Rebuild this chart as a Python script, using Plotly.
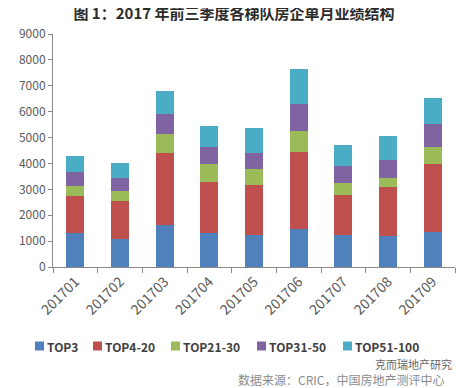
import plotly.graph_objects as go

months = ["201701", "201702", "201703", "201704", "201705", "201706", "201707", "201708", "201709"]
top3 = [1320, 1090, 1630, 1320, 1250, 1480, 1250, 1210, 1360]
top4_20 = [1430, 1470, 2780, 1970, 1930, 2970, 1540, 1890, 2630]
top21_30 = [390, 390, 730, 700, 620, 810, 460, 350, 660]
top31_50 = [540, 500, 770, 660, 620, 1040, 660, 690, 890]
top51_100 = [620, 580, 890, 810, 960, 1350, 810, 930, 1000]

series_names = ["TOP3", "TOP4-20", "TOP21-30", "TOP31-50", "TOP51-100"]
series_values = [top3, top4_20, top21_30, top31_50, top51_100]
series_colors = ["#4F81BD", "#C0504D", "#9BBB59", "#8064A2", "#4BACC6"]

font = "Noto Sans CJK SC"
OFF = 8  # default page body margin
W, H = 468 - OFF, 388 - OFF
ML, MT = 53 - OFF, 34 - OFF
MR = W - (455 - OFF)
MB = H - (267 - OFF)
PW, PH = W - ML - MR, H - MT - MB


def px_x(px):
    return (px - OFF - ML) / PW


def px_y(py):
    return (H - MB - (py - OFF)) / PH


fig = go.Figure()
for name, vals, color in zip(series_names, series_values, series_colors):
    fig.add_trace(go.Bar(x=months, y=vals, name=name,
                         marker=dict(color=color, line=dict(width=0))))

fig.update_layout(
    barmode="stack",
    bargap=0.6,
    width=W, height=H,
    margin=dict(l=ML, r=MR, t=MT, b=MB),
    paper_bgcolor="white", plot_bgcolor="white",
    font=dict(family=font, size=12, color="#595959"),
    title=dict(text="<b>图 1：2017 年前三季度各梯队房企单月业绩结构</b>", x=(234 - OFF) / W, xanchor="center",
               y=1 - (14 - OFF) / H, yanchor="middle", font=dict(family=font, size=15, color="#2b2b2b")),
    showlegend=False,
)
fig.update_yaxes(range=[0, 9000], dtick=1000, showgrid=False, showline=True, linecolor="#888888",
                 linewidth=1, ticks="outside", ticklen=4, tickcolor="#888888", zeroline=False,
                 tickfont=dict(size=12, color="#595959"), automargin=False)
fig.update_xaxes(showgrid=False, showline=True, linecolor="#888888", linewidth=1, ticks="outside",
                 ticklen=5, tickcolor="#888888", tickson="boundaries", tickangle=-45,
                 tickfont=dict(size=14, color="#595959"), automargin=False)

# custom one-row legend
legend_square_left = [35, 93, 171, 257, 343]
legend_cy = 346
sq = 9
for name, color, lx in zip(series_names, series_colors, legend_square_left):
    fig.add_shape(type="rect", xref="paper", yref="paper",
                  x0=px_x(lx), x1=px_x(lx + sq), y0=px_y(legend_cy + sq / 2), y1=px_y(legend_cy - sq / 2),
                  fillcolor=color, line=dict(width=0))
    fig.add_annotation(text="<b>" + name + "</b>", xref="paper", yref="paper",
                       x=px_x(lx + sq + 1), y=px_y(legend_cy), xanchor="left", yanchor="middle",
                       showarrow=False, font=dict(family=font, size=12, color="#404040"))

fig.add_annotation(text="克而瑞地产研究", xref="paper", yref="paper", x=px_x(454), y=px_y(364),
                   xanchor="right", yanchor="middle", showarrow=False,
                   font=dict(family=font, size=11, color="#666666"))
fig.add_annotation(text="数据来源：CRIC，中国房地产测评中心", xref="paper", yref="paper", x=px_x(446), y=px_y(379),
                   xanchor="right", yanchor="middle", showarrow=False,
                   font=dict(family=font, size=12, color="#8c8c8c"))

fig.write_html("out.html")
